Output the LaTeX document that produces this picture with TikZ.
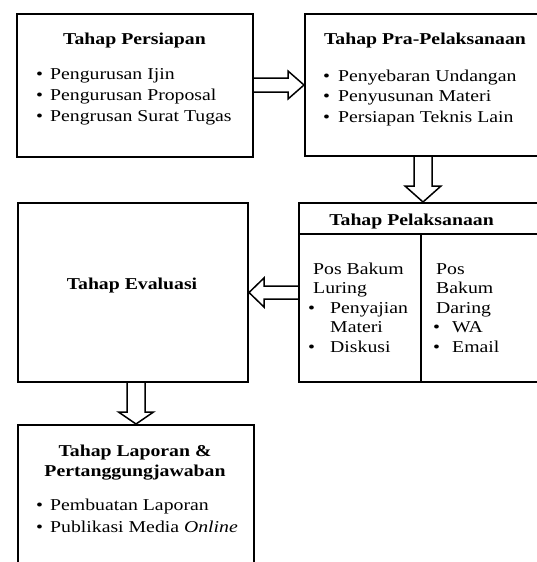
\documentclass[tikz,border=0pt]{standalone}
\usepackage{fontspec}
\setmainfont{Liberation Serif}[FakeStretch=1.19]
\usetikzlibrary{calc}
\newcommand{\bul}[2]{\makebox[#1pt][l]{\textbullet}#2}
\begin{document}
\begin{tikzpicture}[x=1pt,y=-1pt,
  box/.style={draw, line width=2pt, inner sep=0pt, anchor=north west},
  txt/.style={anchor=base west, inner sep=0pt, font=\fontsize{16.6}{20}\selectfont},
  ttl/.style={anchor=base, inner sep=0pt, font=\fontsize{16.6}{20}\selectfont\bfseries},
  barrow/.style={draw, line width=1.5pt, line join=miter}]
\useasboundingbox (0,0) rectangle (537,562);
\clip (0,0) rectangle (537,562);
% boxes
\node[box, minimum width=236pt, minimum height=143pt] (p1) at (16,13) {};
\node[box, minimum width=260pt, minimum height=142pt] (p2) at (304,13) {};
\node[box, minimum width=260pt, minimum height=179pt] (p3) at (298,202) {};
\node[box, minimum width=230pt, minimum height=179pt] (p4) at (17,202) {};
\node[box, minimum width=236pt, minimum height=200pt] (p5) at (17,424) {};
\draw[line width=2pt] ($(p3.north west)+(0,32)$) -- ($(p3.north east)+(0,32)$);
\draw[line width=2pt] ($(p3.north west)+(123,32)$) -- ($(p3.south west)+(123,0)$);
% arrows
\draw[barrow] ($(p1.east |- p2.west)+(0,-7)$) -- ($(p2.west)+(-16,-7)$) -- ($(p2.west)+(-16,-14)$) -- (p2.west)
  -- ($(p2.west)+(-16,14)$) -- ($(p2.west)+(-16,7)$) -- ($(p1.east |- p2.west)+(0,7)$);
\coordinate (a2s) at ($(p2.south west)+(119,0)$);
\coordinate (a2t) at ($(p3.north west)+(125,0)$);
\draw[barrow] ($(a2s)+(-9,0)$) -- ($(a2t)+(-9,-16)$) -- ($(a2t)+(-18,-16)$) -- (a2t)
  -- ($(a2t)+(18,-16)$) -- ($(a2t)+(9,-16)$) -- ($(a2s)+(9,0)$);
\draw[barrow] ($(p3.west)+(0,-6.5)$) -- ($(p4.east)+(15,-6.5)$) -- ($(p4.east)+(15,-14.5)$) -- (p4.east)
  -- ($(p4.east)+(15,14.5)$) -- ($(p4.east)+(15,6.5)$) -- ($(p3.west)+(0,6.5)$);
\draw[barrow] ($(p4.south -| p5.north)+(-9,0)$) -- ($(p5.north)+(-9,-12)$) -- ($(p5.north)+(-17.5,-12)$) -- (p5.north)
  -- ($(p5.north)+(17.5,-12)$) -- ($(p5.north)+(9,-12)$) -- ($(p4.south -| p5.north)+(9,0)$);
% box 1 text
\node[ttl] (t1) at (134.5,44) {Tahap Persiapan};
\node[txt] (t1a) at (36,79.5) {\bul{14}{Pengurusan Ijin}};
\node[txt] (t1b) at (36,100.5) {\bul{14}{Pengurusan Proposal}};
\node[txt] (t1c) at (36,121.5) {\bul{14}{Pengrusan Surat Tugas}};
% box 2 text
\node[ttl] (t2) at (425,44) {Tahap Pra-Pelaksanaan};
\node[txt] (t2a) at (323,81) {\bul{15}{Penyebaran Undangan}};
\node[txt] (t2b) at (323,101.5) {\bul{15}{Penyusunan Materi}};
\node[txt] (t2c) at (323,122) {\bul{15}{Persiapan Teknis Lain}};
% box 3 text
\node[ttl] (t3) at (411.5,225) {Tahap Pelaksanaan};
\node[txt] (t3a) at (313,274) {Pos Bakum};
\node[txt] (t3b) at (313,293) {Luring};
\node[txt] (t3c) at (308,313) {\bul{22}{Penyajian}};
\node[txt] (t3d) at (330,332) {Materi};
\node[txt] (t3e) at (308,352) {\bul{22}{Diskusi}};
\node[txt] (t3f) at (436,274) {Pos};
\node[txt] (t3g) at (436,293) {Bakum};
\node[txt] (t3h) at (436,313) {Daring};
\node[txt] (t3i) at (433,332) {\bul{19}{WA}};
\node[txt] (t3j) at (433,352) {\bul{19}{Email}};
% box 4 text
\node[ttl] (t4) at (132,289) {Tahap Evaluasi};
% box 5 text
\node[ttl] (t5) at (135,456) {Tahap Laporan \&};
\node[ttl] (t5b) at (135,476) {Pertanggungjawaban};
\node[txt] (t5c) at (36,510) {\bul{14}{Pembuatan Laporan}};
\node[txt] (t5d) at (36,532) {\bul{14}{Publikasi Media \textit{Online}}};
\end{tikzpicture}
\end{document}
